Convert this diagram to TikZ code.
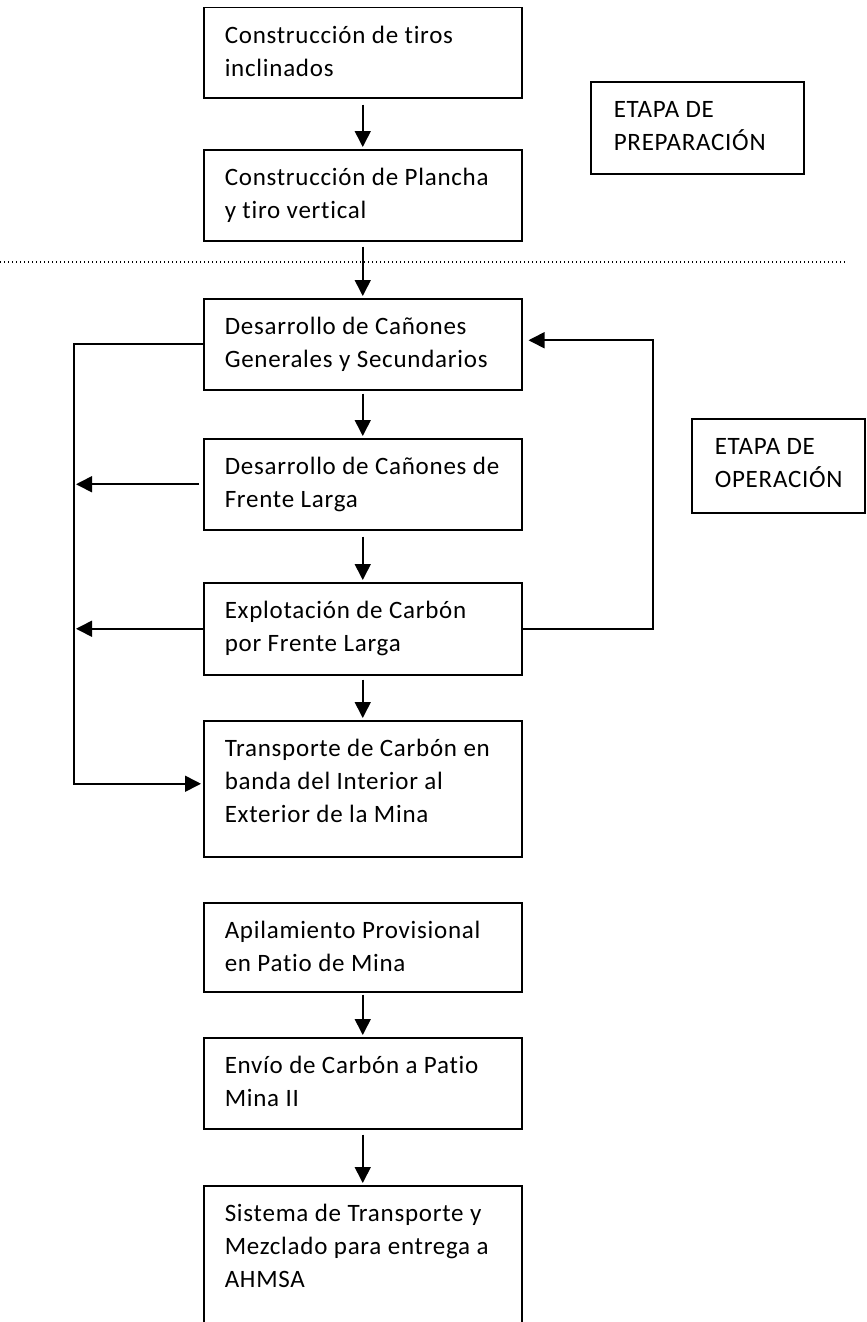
\documentclass[tikz,border=0pt]{standalone}
\usepackage{fontspec}
\setmainfont{Carlito}[LetterSpace=3, Ligatures=NoCommon]
\usetikzlibrary{arrows.meta,calc}

% text block of a step box: fixed width and height, text set from the top
\newcommand\boxtext[3]{\parbox[c][#2][t]{#1}{\raggedright\vspace*{13pt}\strut #3}}

\tikzset{
  stepbox/.style={draw, line width=1.5pt, anchor=north west,
    inner xsep=21pt, inner ysep=0pt, font=\fontsize{25}{33}\selectfont},
  stagebox/.style={stepbox, inner xsep=23pt},
  link/.style={line width=1.6pt},
  arr/.style={link, -{Triangle[length=16pt,width=16pt]}, shorten >=2pt},
  sep/.style={line width=1.3pt, dash pattern=on 1.4pt off 2.6pt},
}

\begin{document}
\begin{tikzpicture}[x=1pt, y=-1pt]
\clip (0,0) rectangle (867,1322);
\useasboundingbox (0,0) rectangle (867,1322);

% preparation stage
\node[stepbox] (b1) at (203,7)   {\boxtext{276pt}{90pt}{Construcción de tiros\\inclinados}};
\node[stepbox] (b2) at (203,149) {\boxtext{276pt}{91pt}{Construcción de Plancha\\y tiro vertical}};
\node[stagebox] (prep) at (590,81) {\boxtext{167pt}{92pt}{ETAPA DE\\PREPARACIÓN}};

% stage separator
\draw[sep] (0,262) -- (847,262);

% operation stage
\node[stepbox] (b3) at (203,298) {\boxtext{276pt}{91pt}{Desarrollo de Cañones\\Generales y Secundarios}};
\node[stepbox] (b4) at (203,438) {\boxtext{276pt}{91pt}{Desarrollo de Cañones de\\Frente Larga}};
\node[stepbox] (b5) at (203,582) {\boxtext{276pt}{92pt}{Explotación de Carbón\\por Frente Larga}};
\node[stepbox] (b6) at (203,720) {\boxtext{276pt}{136pt}{Transporte de Carbón en\\banda del Interior al\\Exterior de la Mina}};
\node[stagebox] (oper) at (691,418) {\boxtext{127pt}{94pt}{ETAPA DE\\OPERACIÓN}};

% surface handling
\node[stepbox] (b7) at (203,902)  {\boxtext{276pt}{89pt}{Apilamiento Provisional\\en Patio de Mina}};
\node[stepbox] (b8) at (203,1037) {\boxtext{276pt}{91pt}{Envío de Carbón a Patio\\Mina II}};
\node[stepbox] (b9) at (203,1185) {\boxtext{276pt}{170pt}{Sistema de Transporte y\\Mezclado para entrega a\\AHMSA}};

% main flow
\draw[arr] ([yshift=-6pt]b1.south) -- (b2.north);
\draw[arr] ([yshift=-5pt]b2.south) -- (b3.north);
\draw[arr] ([yshift=-3pt]b3.south) -- (b4.north);
\draw[arr] ([yshift=-6pt]b4.south) -- (b5.north);
\draw[arr] ([yshift=-4pt]b5.south) -- (b6.north);
\draw[arr] ([yshift=-2pt]b7.south) -- (b8.north);
\draw[arr] ([yshift=-5pt]b8.south) -- (b9.north);

% collector line on the left
\coordinate (busL) at (74,0);
\draw[arr] (b3.west) -- (b3.west -| busL) |- ([yshift=5pt]b6.west);
\draw[arr] ([xshift=-4pt]b4.west) -- (b4.west -| busL);
\draw[arr] (b5.west) -- (b5.west -| busL);

% return loop on the right
\coordinate (loopR) at (653,0);
\draw[arr] (b5.east) -- (b5.east -| loopR) |- ([yshift=4pt,xshift=4pt]b3.east);
\end{tikzpicture}
\end{document}
